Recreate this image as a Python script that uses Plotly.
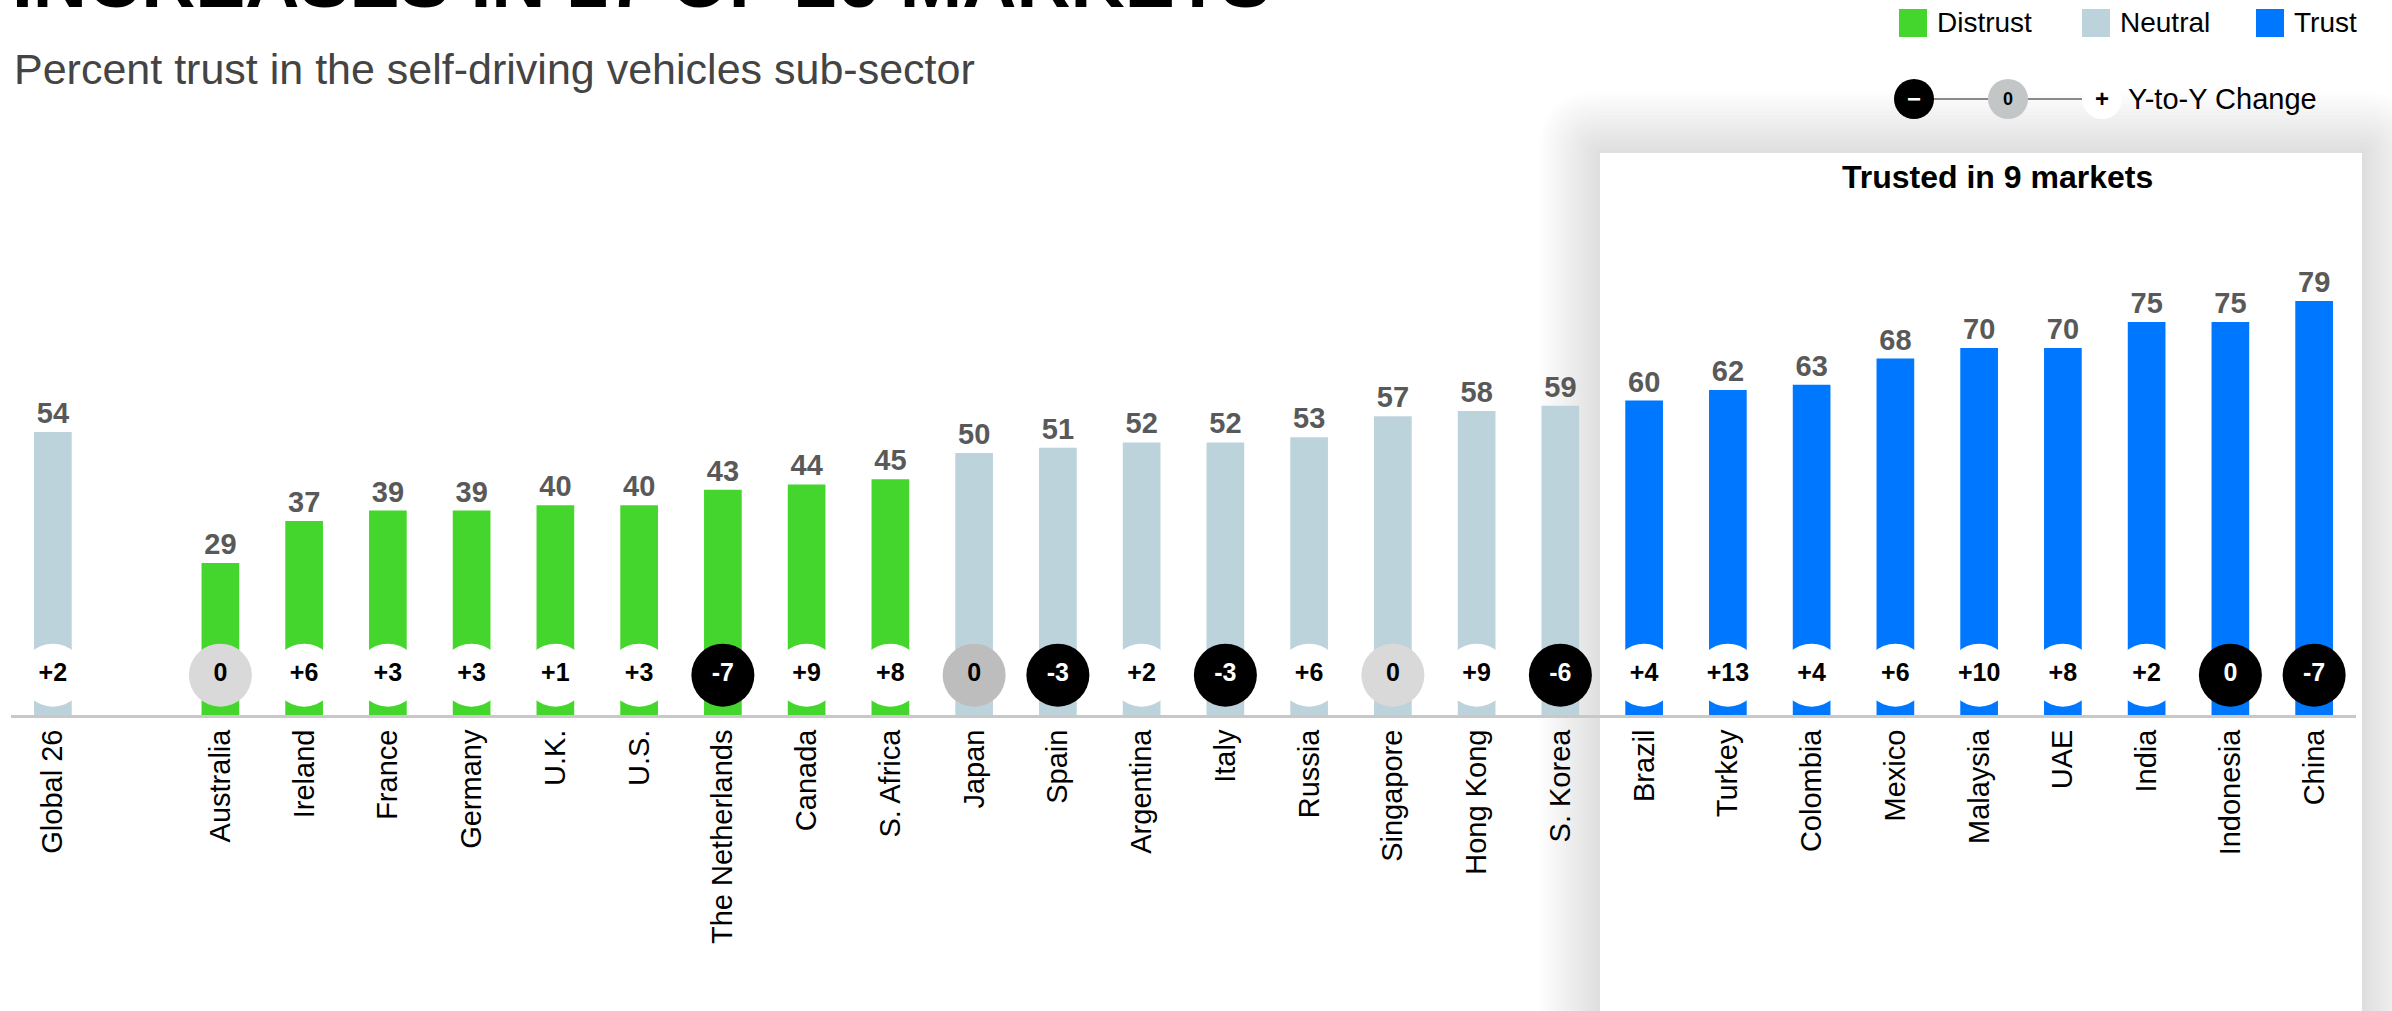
import plotly.graph_objects as go

# values
markets = ["Global 26", "Australia", "Ireland", "France", "Germany", "U.K.", "U.S.",
           "The Netherlands", "Canada", "S. Africa", "Japan", "Spain", "Argentina", "Italy",
           "Russia", "Singapore", "Hong Kong", "S. Korea", "Brazil", "Turkey", "Colombia",
           "Mexico", "Malaysia", "UAE", "India", "Indonesia", "China"]
trust = [54, 29, 37, 39, 39, 40, 40, 43, 44, 45, 50, 51, 52, 52, 53, 57, 58, 59,
         60, 62, 63, 68, 70, 70, 75, 75, 79]
change = [2, 0, 6, 3, 3, 1, 3, -7, 9, 8, 0, -3, 2, -3, 6, 0, 9, -6,
          4, 13, 4, 6, 10, 8, 2, 0, -7]

levels = ["Distrust", "Neutral", "Trust"]
level_colors = {"Distrust": "#44d62c", "Neutral": "#bdd3dc", "Trust": "#0077ff"}
# the zero badges are not all drawn the same way in the original
zero_fill = {"Australia": "#d9d9d9", "Japan": "#bdbdbd", "Singapore": "#d9d9d9", "Indonesia": "#000000"}

FONT = "Liberation Sans, Arial, Helvetica, sans-serif"
W, H = 2392, 1011
L, R, T, B = 11, 36, 150, 296
PW, PH = W - L - R, H - T - B
YMAX = 107.8


def px(x):
    return (x - L) / PW


def py(y):
    return (H - B - y) / PH


def level_of(v):
    if v < 50:
        return "Distrust"
    if v < 60:
        return "Neutral"
    return "Trust"


def rounded_rect(x0, y0, x1, y1, r):
    # pixel box -> svg path in paper coords, corners rounded with quadratic curves
    def p(x, y):
        return "%.5f,%.5f" % (px(x), py(y))
    return ("M%s L%s Q%s %s L%s Q%s %s L%s Q%s %s L%s Q%s %s Z" % (
        p(x0 + r, y0), p(x1 - r, y0), p(x1, y0), p(x1, y0 + r),
        p(x1, y1 - r), p(x1, y1), p(x1 - r, y1),
        p(x0 + r, y1), p(x0, y1), p(x0, y1 - r),
        p(x0, y0 + r), p(x0, y0), p(x0 + r, y0)))


# Global sits apart from the markets, one empty slot between
xpos = [0] + list(range(2, len(markets) + 1))
bar_colors = [level_colors[level_of(v)] for v in trust]

badge_text = [("+%d" % c) if c > 0 else str(c) for c in change]
badge_fill, badge_font = [], []
for m, c in zip(markets, change):
    if c > 0:
        fill = "#ffffff"
    elif c < 0:
        fill = "#000000"
    else:
        fill = zero_fill.get(m, "#d9d9d9")
    badge_fill.append(fill)
    badge_font.append("#ffffff" if fill == "#000000" else "#000000")

fig = go.Figure()
fig.add_trace(go.Bar(
    x=xpos, y=trust, width=0.45,
    marker=dict(color=bar_colors, line=dict(width=0)),
    text=trust, texttemplate="%{text}", textposition="outside",
    textfont=dict(family=FONT, size=29, color="#595959", weight="bold"),
    cliponaxis=False, hoverinfo="skip", showlegend=False,
))
fig.add_trace(go.Scatter(
    x=xpos, y=[7.6] * len(xpos), mode="markers+text",
    marker=dict(size=63, color=badge_fill, line=dict(width=0)),
    text=badge_text, textposition="middle center",
    textfont=dict(family=FONT, size=25, color=badge_font, weight="bold"),
    cliponaxis=False, hoverinfo="skip", showlegend=False,
))

shapes = []
# soft drop shadow of the "trusted" panel
px0, py0, px1, py1 = 1600, 153, 2362, 1080
for k in range(16, 0, -1):
    d = k * 3.8
    shapes.append(dict(type="path", xref="paper", yref="paper",
                       path=rounded_rect(px0 - d, py0 - d, px1 + d, py1 + d, d),
                       fillcolor="rgba(0,0,0,0.0095)", line=dict(width=0), layer="below"))
shapes.append(dict(type="rect", xref="paper", yref="paper",
                   x0=px(px0), x1=px(px1), y0=py(py1), y1=py(py0),
                   fillcolor="#ffffff", line=dict(width=0), layer="below"))

annotations = [
    dict(text="<b>INCREASES IN 17 OF 26 MARKETS</b>", x=px(10), y=py(25), xref="paper", yref="paper",
         xanchor="left", yanchor="bottom", showarrow=False,
         font=dict(family=FONT, size=75, color="#000000")),
    dict(text="Percent trust in the self-driving vehicles sub-sector", x=px(12), y=py(95),
         xref="paper", yref="paper", xanchor="left", yanchor="bottom", showarrow=False,
         font=dict(family=FONT, size=43, color="#444444")),
    dict(text="<b>Trusted in 9 markets</b>", x=px(1997), y=py(177), xref="paper", yref="paper",
         xanchor="center", yanchor="middle", showarrow=False,
         font=dict(family=FONT, size=32, color="#000000")),
]

# level legend
legend_pos = {"Distrust": 1899, "Neutral": 2082, "Trust": 2256}
for lv in levels:
    x0 = legend_pos[lv]
    shapes.append(dict(type="rect", xref="paper", yref="paper",
                       x0=px(x0), x1=px(x0 + 28), y0=py(37), y1=py(9),
                       fillcolor=level_colors[lv], line=dict(width=0), layer="above"))
    annotations.append(dict(text=lv, x=px(x0 + 36), y=py(23), xref="paper", yref="paper",
                            xanchor="left", yanchor="middle", showarrow=False,
                            font=dict(family=FONT, size=28, color="#000000")))

# year-to-year change key
ky = 99
shapes.append(dict(type="line", xref="paper", yref="paper",
                   x0=px(1914), x1=px(2102), y0=py(ky), y1=py(ky),
                   line=dict(color="#8a8a8a", width=2), layer="above"))
for cx, fill, sym, col in [(1914, "#000000", "\u2212", "#ffffff"),
                            (2008, "#c3c6c6", "0", "#000000"),
                            (2102, "#ffffff", "+", "#000000")]:
    r = 20
    shapes.append(dict(type="circle", xref="paper", yref="paper",
                       x0=px(cx - r), x1=px(cx + r), y0=py(ky + r), y1=py(ky - r),
                       fillcolor=fill, line=dict(width=0), layer="above"))
    annotations.append(dict(text="<b>%s</b>" % sym, x=px(cx), y=py(ky), xref="paper", yref="paper",
                            xanchor="center", yanchor="middle", showarrow=False,
                            font=dict(family=FONT, size=24 if sym != "0" else 18, color=col)))
annotations.append(dict(text="Y-to-Y Change", x=px(2126), y=py(ky), xref="paper", yref="paper",
                        xanchor="left", yanchor="middle", showarrow=False,
                        font=dict(family=FONT, size=29, color="#000000")))

fig.update_layout(
    width=W, height=H,
    margin=dict(l=L, r=R, t=T, b=B, autoexpand=False),
    paper_bgcolor="#ffffff", plot_bgcolor="rgba(0,0,0,0)",
    shapes=shapes, annotations=annotations,
    showlegend=False,
    xaxis=dict(range=[-0.5, 27.5], tickmode="array", tickvals=xpos, ticktext=markets,
               tickangle=-90, tickfont=dict(family=FONT, size=29, color="#000000"),
               showline=True, linecolor="#c8c8c8", linewidth=3, showgrid=False,
               zeroline=False, ticks="", automargin=False, fixedrange=True),
    yaxis=dict(range=[0, YMAX], visible=False, automargin=False, fixedrange=True),
)

# the page's default body margin would push the figure 8px in; drop it
fig.write_html("out.html", config={"displayModeBar": False},
               post_script="document.body.style.margin = '0';")
